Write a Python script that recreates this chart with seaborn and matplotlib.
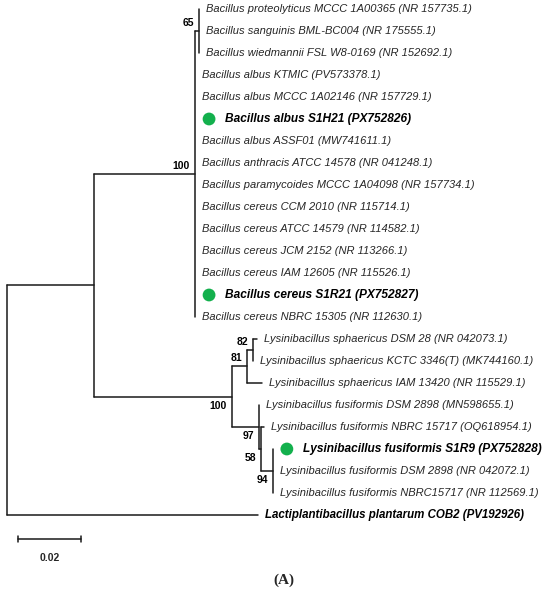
import pandas as pd
import matplotlib
matplotlib.use("Agg")
import matplotlib.pyplot as plt
import seaborn as sns

# leaves, top to bottom
taxa = [
    "Bacillus proteolyticus MCCC 1A00365 (NR 157735.1)",
    "Bacillus sanguinis BML-BC004 (NR 175555.1)",
    "Bacillus wiedmannii FSL W8-0169 (NR 152692.1)",
    "Bacillus albus KTMIC (PV573378.1)",
    "Bacillus albus MCCC 1A02146 (NR 157729.1)",
    "Bacillus albus S1H21 (PX752826)",
    "Bacillus albus ASSF01 (MW741611.1)",
    "Bacillus anthracis ATCC 14578 (NR 041248.1)",
    "Bacillus paramycoides MCCC 1A04098 (NR 157734.1)",
    "Bacillus cereus CCM 2010 (NR 115714.1)",
    "Bacillus cereus ATCC 14579 (NR 114582.1)",
    "Bacillus cereus JCM 2152 (NR 113266.1)",
    "Bacillus cereus IAM 12605 (NR 115526.1)",
    "Bacillus cereus S1R21 (PX752827)",
    "Bacillus cereus NBRC 15305 (NR 112630.1)",
    "Lysinibacillus sphaericus DSM 28 (NR 042073.1)",
    "Lysinibacillus sphaericus KCTC 3346(T) (MK744160.1)",
    "Lysinibacillus sphaericus IAM 13420 (NR 115529.1)",
    "Lysinibacillus fusiformis DSM 2898 (MN598655.1)",
    "Lysinibacillus fusiformis NBRC 15717 (OQ618954.1)",
    "Lysinibacillus fusiformis S1R9 (PX752828)",
    "Lysinibacillus fusiformis DSM 2898 (NR 042072.1)",
    "Lysinibacillus fusiformis NBRC15717 (NR 112569.1)",
    "Lactiplantibacillus plantarum COB2 (PV192926)",
]
taxa_parent = ["n65"] * 3 + ["Bac"] * 12 + ["n82", "n82", "n81", "n97", "n58", "n94", "n94", "n94", "root"]
taxa_len = [0] * 15 + [0.0013, 0, 0.0048, 0, 0.001, 0, 0, 0, 0.0797]

highlight = ["Bacillus albus S1H21 (PX752826)",
             "Bacillus cereus S1R21 (PX752827)",
             "Lysinibacillus fusiformis S1R9 (PX752828)"]
bold_only = ["Lactiplantibacillus plantarum COB2 (PV192926)"]

# internal nodes (parents before children)
nodes = ["root", "BL", "Bac", "n65", "Lys", "n81", "n82", "n97", "n58", "n94"]
node_parent = [None, "root", "BL", "Bac", "BL", "Lys", "n81", "Lys", "n97", "n58"]
node_len = [0, 0.0276, 0.0321, 0.0013, 0.0438, 0.0048, 0.0019, 0.0086, 0.0006, 0.0038]
bootstrap = {"Bac": 100, "n65": 65, "Lys": 100, "n81": 81, "n82": 82,
             "n97": 97, "n58": 58, "n94": 94}
below = ["Lys", "n97", "n58", "n94"]

scale_len = 0.02

# ---- layout of the tree
xpos, ypos, children = {}, {}, {n: [] for n in nodes}
for n, p, l in zip(nodes, node_parent, node_len):
    xpos[n] = 0 if p is None else xpos[p] + l
    if p is not None:
        children[p].append(n)
for i, (t, p, l) in enumerate(zip(taxa, taxa_parent, taxa_len)):
    xpos[t] = xpos[p] + l
    ypos[t] = i
    children[p].append(t)
for n in reversed(nodes):
    ys = [ypos[c] for c in children[n]]
    ypos[n] = (min(ys) + max(ys)) / 2

rows = []
k = 0
for n in nodes:
    ys = [ypos[c] for c in children[n]]
    rows += [(k, xpos[n], min(ys)), (k, xpos[n], max(ys))]
    k += 1
    for c in children[n]:
        rows += [(k, xpos[n], ypos[c]), (k, xpos[c], ypos[c])]
        k += 1
seg = pd.DataFrame(rows, columns=["seg", "x", "y"])

sns.set_style("white")
plt.rcParams["font.family"] = ["Liberation Sans", "DejaVu Sans"]

PX = 0.72  # points per pixel at dpi 100
fig = plt.figure(figsize=(5.5, 5.9), dpi=100)
ax = fig.add_axes([0, 0, 1, 1])
sns.lineplot(data=seg, x="x", y="y", units="seg", estimator=None, sort=False,
             color="#1a1a1a", lw=1.1, ax=ax, legend=False)

for t in taxa:
    if t in highlight:
        ax.annotate(t, (xpos[t], ypos[t]), xytext=(30 * PX, 0), textcoords="offset points",
                    va="center", ha="left", fontsize=8.6, fontweight="bold",
                    fontstyle="italic", color="black")
    elif t in bold_only:
        ax.annotate(t, (xpos[t], ypos[t]), xytext=(7 * PX, 0), textcoords="offset points",
                    va="center", ha="left", fontsize=8.3, fontweight="bold",
                    fontstyle="italic", color="black")
    else:
        ax.annotate(t, (xpos[t], ypos[t]), xytext=(7 * PX, 0), textcoords="offset points",
                    va="center", ha="left", fontsize=8, fontstyle="italic", color="#262626")

dots = pd.DataFrame({"x": [xpos[t] + 14 / 3150 for t in highlight],
                     "y": [ypos[t] for t in highlight]})
sns.scatterplot(data=dots, x="x", y="y", color="#13b04d", s=85, edgecolor="none",
                ax=ax, legend=False)

for n, v in bootstrap.items():
    dy = -9 if n in below else 8
    ax.annotate(str(v), (xpos[n], ypos[n]), xytext=(-5 * PX, dy * PX),
                textcoords="offset points", ha="right", va="center",
                fontsize=7.5, fontweight="bold", color="black")

# scale bar
sb_x0 = 11 / 3150
sb_y = (539 - 9) / 22
ax.plot([sb_x0, sb_x0 + scale_len], [sb_y, sb_y], color="#1a1a1a", lw=1.1)
for xx in (sb_x0, sb_x0 + scale_len):
    ax.plot([xx, xx], [sb_y - 0.14, sb_y + 0.14], color="#1a1a1a", lw=1.1)
ax.text(sb_x0 + scale_len / 2, (558 - 9) / 22, f"{scale_len:.2f}", ha="center",
        va="center", fontsize=7.5, fontweight="bold")

fig.text(284 / 550, 1 - 580 / 590, "(A)", ha="center", va="center",
         fontsize=11, fontweight="bold", family="Liberation Serif")

ax.set_xlim(-7 / 3150, 543 / 3150)
ax.set_ylim((590 - 9) / 22, -9 / 22)
ax.axis("off")
fig.savefig("out.png", dpi=100, facecolor="white")
